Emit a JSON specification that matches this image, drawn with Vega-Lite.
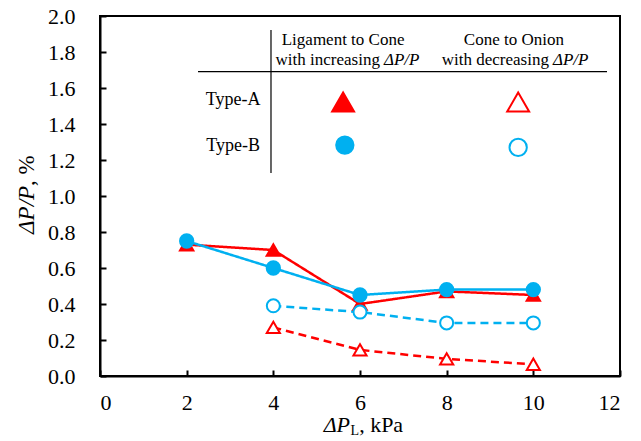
{
  "$schema": "https://vega.github.io/schema/vega-lite/v6.json",
  "width": 520,
  "height": 360,
  "autosize": {"type": "none"},
  "padding": {"left": 100, "top": 16, "right": 21, "bottom": 65},
  "background": "white",
  "config": {
    "view": {"stroke": "black", "strokeWidth": 2},
    "font": "Times New Roman",
    "axis": {
      "grid": false,
      "labelFont": "Times New Roman",
      "labelFontSize": 22,
      "labelColor": "black",
      "labelOverlap": false,
      "domainColor": "black",
      "domainWidth": 2,
      "tickColor": "black",
      "tickWidth": 2,
      "tickSize": -6
    }
  },
  "datasets": {
    "series": [
      {"x": 2, "y": 0.73, "s": "A-inc"},
      {"x": 4, "y": 0.70, "s": "A-inc"},
      {"x": 6, "y": 0.40, "s": "A-inc"},
      {"x": 8, "y": 0.47, "s": "A-inc"},
      {"x": 10, "y": 0.45, "s": "A-inc"},
      {"x": 2, "y": 0.75, "s": "B-inc"},
      {"x": 4, "y": 0.60, "s": "B-inc"},
      {"x": 6, "y": 0.45, "s": "B-inc"},
      {"x": 8, "y": 0.48, "s": "B-inc"},
      {"x": 10, "y": 0.48, "s": "B-inc"},
      {"x": 4, "y": 0.39, "s": "B-dec"},
      {"x": 6, "y": 0.355, "s": "B-dec"},
      {"x": 8, "y": 0.295, "s": "B-dec"},
      {"x": 10, "y": 0.295, "s": "B-dec"},
      {"x": 4, "y": 0.27, "s": "A-dec"},
      {"x": 6, "y": 0.145, "s": "A-dec"},
      {"x": 8, "y": 0.095, "s": "A-dec"},
      {"x": 10, "y": 0.065, "s": "A-dec"}
    ],
    "legendTri": [
      {"x": 5.61, "y": 1.522, "s": "A-inc"},
      {"x": 9.65, "y": 1.522, "s": "A-dec"}
    ],
    "legendCirc": [
      {"x": 5.65, "y": 1.283, "s": "B-inc"},
      {"x": 9.65, "y": 1.27, "s": "B-dec"}
    ],
    "tableLines": [
      {"x": 3.946, "y": 1.922, "x2": 3.946, "y2": 1.128},
      {"x": 2.262, "y": 1.691, "x2": 11.70, "y2": 1.691}
    ],
    "centerText": [
      {"x": 5.61, "y": 1.867, "t": "Ligament to Cone"},
      {"x": 9.55, "y": 1.867, "t": "Cone to Onion"}
    ],
    "rowText": [
      {"x": 3.07, "y": 1.533, "t": "Type-A"},
      {"x": 3.07, "y": 1.278, "t": "Type-B"}
    ],
    "rightText": [
      {"x": 6.46, "y": 1.756, "t": "with increasing"},
      {"x": 10.36, "y": 1.756, "t": "with decreasing"}
    ],
    "italicText": [
      {"x": 6.46, "y": 1.756, "t": "ΔP/P"},
      {"x": 10.36, "y": 1.756, "t": "ΔP/P"}
    ],
    "xTitleItalic": [{"x": 5.77, "y": -0.272, "t": "ΔP"}],
    "xTitleSub": [{"x": 5.78, "y": -0.303, "t": "L"}],
    "xTitleNormal": [{"x": 5.98, "y": -0.272, "t": ", kPa"}],
    "yTitleItalic": [{"x": -1.685, "y": 1.056, "t": "ΔP/P"}],
    "yTitleNormal": [{"x": -1.685, "y": 1.056, "t": ", %"}]
  },
  "encoding": {
    "x": {"field": "x", "type": "quantitative", "title": null, "scale": {"domain": [0, 12], "nice": false}, "axis": {"values": [0, 2, 4, 6, 8, 10, 12], "labelPadding": 22, "labelFont": "Times New Roman", "labelFontSize": 22, "labelOverlap": false, "title": null}},
    "y": {"field": "y", "type": "quantitative", "title": null, "scale": {"domain": [0, 2], "nice": false}, "axis": {"values": [0, 0.2, 0.4, 0.6, 0.8, 1.0, 1.2, 1.4, 1.6, 1.8, 2.0], "format": ".1f", "labelPadding": 31, "labelFont": "Times New Roman", "labelFontSize": 22, "labelOverlap": false, "title": null}}
  },
  "layer": [
    {
      "data": {"name": "series"},
      "mark": {"type": "line", "strokeWidth": 2.5},
      "encoding": {
        "color": {"field": "s", "type": "nominal", "scale": {"domain": ["A-inc", "B-inc", "A-dec", "B-dec"], "range": ["#FF0000", "#00B0F0", "#FF0000", "#00B0F0"]}, "legend": null},
        "strokeDash": {"field": "s", "type": "nominal", "scale": {"domain": ["A-inc", "B-inc", "A-dec", "B-dec"], "range": [[1, 0], [1, 0], [8, 5], [8, 5]]}, "legend": null}
      }
    },
    {
      "data": {"name": "series"},
      "mark": {"type": "point", "filled": true, "strokeWidth": 2, "opacity": 1},
      "encoding": {
        "stroke": {"field": "s", "type": "nominal", "scale": {"domain": ["A-inc", "B-inc", "A-dec", "B-dec"], "range": ["#FF0000", "#00B0F0", "#FF0000", "#00B0F0"]}, "legend": null},
        "fill": {"field": "s", "type": "nominal", "scale": {"domain": ["A-inc", "B-inc", "A-dec", "B-dec"], "range": ["#FF0000", "#00B0F0", "white", "white"]}, "legend": null},
        "shape": {"field": "s", "type": "nominal", "scale": {"domain": ["A-inc", "B-inc", "A-dec", "B-dec"], "range": ["triangle-up", "circle", "triangle-up", "circle"]}, "legend": null},
        "size": {"field": "s", "type": "nominal", "scale": {"domain": ["A-inc", "B-inc", "A-dec", "B-dec"], "range": [180, 170, 150, 120]}, "legend": null}
      }
    },
    {
      "data": {"name": "tableLines"},
      "mark": {"type": "rule", "color": "black", "strokeWidth": 1.2},
      "encoding": {
        "x2": {"field": "x2"},
        "y2": {"field": "y2"}
      }
    },
    {
      "data": {"name": "legendTri"},
      "mark": {"type": "point", "filled": true, "strokeWidth": 2, "opacity": 1, "size": 480},
      "encoding": {
        "stroke": {"field": "s", "type": "nominal", "legend": null},
        "fill": {"field": "s", "type": "nominal", "legend": null},
        "shape": {"field": "s", "type": "nominal", "legend": null}
      }
    },
    {
      "data": {"name": "legendCirc"},
      "mark": {"type": "point", "filled": true, "strokeWidth": 2, "opacity": 1, "size": 300},
      "encoding": {
        "stroke": {"field": "s", "type": "nominal", "legend": null},
        "fill": {"field": "s", "type": "nominal", "legend": null},
        "shape": {"field": "s", "type": "nominal", "legend": null}
      }
    },
    {
      "data": {"name": "centerText"},
      "mark": {"type": "text", "font": "Times New Roman", "fontSize": 17, "align": "center", "baseline": "middle", "color": "black"},
      "encoding": {"text": {"field": "t"}}
    },
    {
      "data": {"name": "rowText"},
      "mark": {"type": "text", "font": "Times New Roman", "fontSize": 18, "align": "center", "baseline": "middle", "color": "black"},
      "encoding": {"text": {"field": "t"}}
    },
    {
      "data": {"name": "rightText"},
      "mark": {"type": "text", "font": "Times New Roman", "fontSize": 17, "align": "right", "baseline": "middle", "color": "black"},
      "encoding": {"text": {"field": "t"}}
    },
    {
      "data": {"name": "italicText"},
      "mark": {"type": "text", "font": "Times New Roman", "fontSize": 17, "fontStyle": "italic", "align": "left", "baseline": "middle", "color": "black", "dx": 4},
      "encoding": {"text": {"field": "t"}}
    },
    {
      "data": {"name": "xTitleItalic"},
      "mark": {"type": "text", "font": "Times New Roman", "fontSize": 22, "fontStyle": "italic", "align": "right", "baseline": "middle", "color": "black", "clip": false},
      "encoding": {"text": {"field": "t"}}
    },
    {
      "data": {"name": "xTitleSub"},
      "mark": {"type": "text", "font": "Times New Roman", "fontSize": 14, "align": "left", "baseline": "middle", "color": "black", "clip": false},
      "encoding": {"text": {"field": "t"}}
    },
    {
      "data": {"name": "xTitleNormal"},
      "mark": {"type": "text", "font": "Times New Roman", "fontSize": 22, "align": "left", "baseline": "middle", "color": "black", "clip": false},
      "encoding": {"text": {"field": "t"}}
    },
    {
      "data": {"name": "yTitleItalic"},
      "mark": {"type": "text", "font": "Times New Roman", "fontSize": 23, "fontStyle": "italic", "angle": 270, "align": "right", "baseline": "middle", "color": "black", "clip": false},
      "encoding": {"text": {"field": "t"}}
    },
    {
      "data": {"name": "yTitleNormal"},
      "mark": {"type": "text", "font": "Times New Roman", "fontSize": 23, "angle": 270, "align": "left", "baseline": "middle", "color": "black", "clip": false},
      "encoding": {"text": {"field": "t"}}
    }
  ]
}
